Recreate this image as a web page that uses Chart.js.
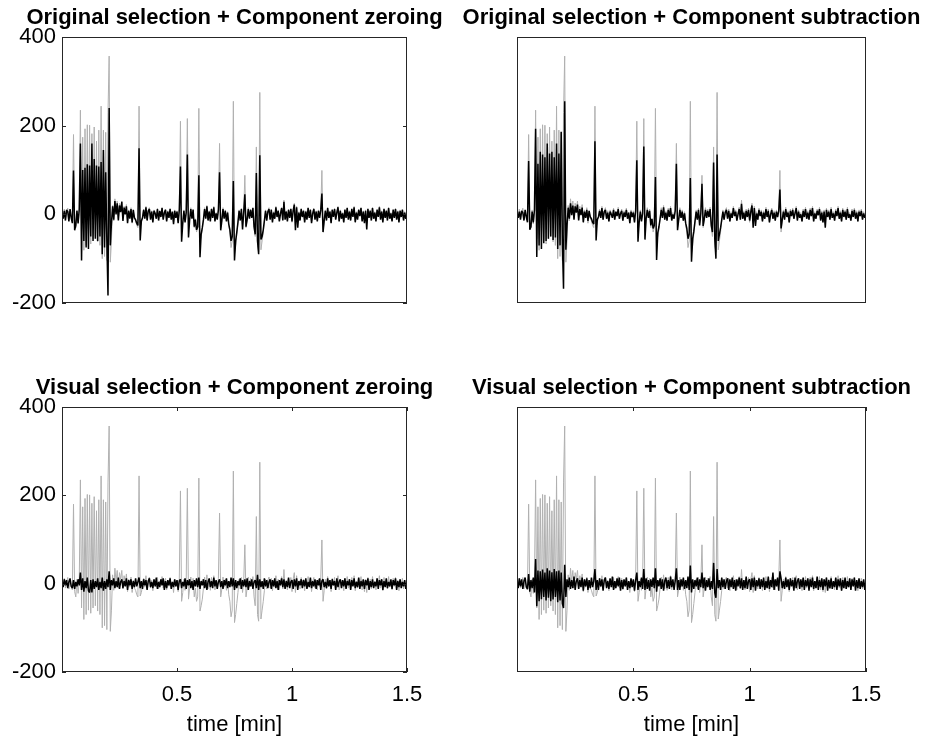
<!DOCTYPE html>
<html>
<head>
<meta charset="utf-8">
<script src="https://cdn.jsdelivr.net/npm/chart.js@4.4.1/dist/chart.umd.min.js"></script>
<style>
  body { margin: 0; background: #fff; }
  #wrap { position: relative; width: 925px; height: 740px; overflow: hidden; }
  #wrap canvas { position: absolute; left: 0; top: 0; }
</style>
</head>
<body>
<div id="wrap">
  <canvas id="c1" width="925" height="760"></canvas>
  <canvas id="c2" width="925" height="760"></canvas>
  <canvas id="c3" width="925" height="760"></canvas>
  <canvas id="c4" width="925" height="760"></canvas>
</div>
<script>
// sample times in minutes, one every 0.005 min
const time = Array.from({length: 301}, (_, i) => +(i * 0.005).toFixed(3));

// original signal (grey trace, same in every panel)
const original = [
  8, -6, 12, -10, 4, 14, -12, 6, -4, -14,
  180, -18, -30, 10, -22, 5, 235, -55, 174, -81,
  193, -70, 202, -60, 201, -67, 182, -55, 197, -50,
  165, -62, 190, -70, 244, -100, 190, -95, 185, -104,
  230, 357, -108, -60, 20, -15, 35, 5, 30, -10,
  25, 10, 30, -12, 18, 2, 22, -18, 10, -8,
  15, -20, 8, -10, -15, -25, -30, 244, -28, -20,
  -5, 12, -8, 18, -12, 6, 15, -10, 8, -16,
  10, 4, -8, 14, -12, 6, -4, 16, -10, 2,
  12, -14, 8, -6, 14, -10, 4, -20, 10, -6,
  8, -18, 12, 210, -40, -20, 10, -15, 5, 216,
  -35, -10, 15, -8, 12, -30, -10, -40, -30, 239,
  -62, -50, -35, -10, 15, -8, 20, -12, 8, -15,
  14, -6, 18, -14, 4, -10, 12, 160, -30, -12,
  15, -8, 10, -15, 6, -25, -40, -75, -60, 255,
  -88, -70, -45, -20, 10, -12, 14, -20, 5, 88,
  -30, -10, 15, -8, 12, -6, 16, -30, -50, 152,
  -70, -85, 275, -80, -60, -40, -15, 10, -12, 8,
  15, -10, 12, -16, 6, -8, 18, -4, 10, -14,
  4, 16, -12, 32, -10, 8, -14, 12, -6, 14,
  -18, 10, 25, -20, 18, -8, 6, -12, 14, -4,
  10, -16, 8, -10, 16, -6, 12, -18, 4, 14,
  -10, 8, -14, 10, -6, 12, 99, -40, -15, 10,
  -12, 16, -6, 8, -18, 12, -4, 14, -10, 6,
  18, -14, 10, -8, 4, -16, 12, -6, 16, -10,
  8, -12, 14, -4, 18, -16, 6, -10, 12, -2,
  16, -14, 8, -18, 10, -20, 14, -6, 10, -12,
  16, -8, 6, -14, 12, -4, 18, -10, 8, -16,
  14, -6, 10, -12, 16, -8, 4, -14, 12, -6,
  14, -10, 8, -16, 10, -4, 12, -12, 6, -8,
  4
];

// cleaned signal: original selection + component zeroing
const origZeroing = [
  5, -10, 8, -14, 10, 6, -16, 12, -8, -20,
  99, -36, -25, 8, -20, 12, 160, -104, 100, -60,
  105, -75, 113, -78, 110, -50, 160, -60, 125, -55,
  110, -60, 108, -50, 118, -90, 145, -75, 95, -60,
  -183, 240, -70, -20, 18, -12, 30, 0, 25, -14,
  20, 5, 28, -15, 15, 0, 18, -20, 8, -10,
  12, -18, 10, -8, -12, -20, -25, 149, -59, -15,
  -8, 10, -10, 16, -14, 8, 12, -12, 6, -18,
  8, 2, -10, 12, -14, 8, -6, 14, -12, 4,
  10, -16, 6, -8, 12, -12, 6, -22, 8, -8,
  6, -20, 10, 108, -62, -20, 8, -18, 4, 135,
  -52, -12, 12, -10, 10, -28, -12, -35, -28, 88,
  -97, -45, -30, -12, 12, -10, 18, -14, 6, -16,
  12, -8, 16, -16, 2, -12, 10, 95, -36, -14,
  12, -10, 8, -16, 4, -22, -35, -60, -50, 75,
  -104, -60, -40, -18, 8, -14, 12, -34, 4, 45,
  -28, -12, 12, -10, 10, -8, 14, -28, -45, 93,
  -60, -90, 133, -57, -50, -35, -14, 8, -14, 6,
  12, -12, 10, -18, 4, -10, 16, -6, 8, -16,
  2, 14, -14, 28, -12, 6, -16, 10, -8, 12,
  -16, 8, 22, -36, 16, -30, 4, -14, 12, -6,
  8, -18, 6, -12, 14, -8, 10, -20, 2, 12,
  -12, 6, -16, 8, -8, 10, 47, -40, -14, 8,
  -14, 14, -8, 6, -20, 10, -6, 12, -12, 4,
  16, -16, 8, -10, 2, -18, 10, -8, 14, -12,
  6, -14, 12, -6, 16, -18, 4, -12, 10, -4,
  14, -16, 6, -20, 8, -34, 12, -8, 8, -14,
  14, -10, 4, -16, 10, -6, 16, -12, 6, -18,
  12, -8, 8, -14, 14, -10, 2, -16, 10, -8,
  12, -12, 6, -18, 8, -6, 10, -14, 4, -10,
  2
];

// cleaned signal: original selection + component subtraction
const origSubtraction = [
  4, -8, 6, -12, 8, 4, -14, 10, -6, -18,
  120, -35, -28, 6, -18, 10, 193, -96, 114, -70,
  141, -78, 135, -65, 129, -60, 160, -55, 137, -50,
  141, -58, 129, -52, 160, -78, 137, -70, 186, -65,
  -168, 255, -80, -25, 15, -10, 25, -2, 20, -12,
  18, 4, 22, -14, 12, -2, 15, -18, 6, -8,
  10, -15, 8, -6, -10, -18, -22, 165, -59, -12,
  -6, 8, -8, 14, -12, 6, 10, -10, 4, -16,
  6, 0, -8, 10, -12, 6, -4, 12, -10, 2,
  8, -14, 4, -6, 10, -10, 4, -20, 6, -6,
  4, -18, 8, 122, -62, -18, 6, -16, 2, 153,
  -57, -10, 10, -8, 8, -25, -10, -32, -25, 84,
  -103, -42, -28, -10, 10, -8, 16, -12, 4, -14,
  10, -6, 14, -14, 0, -10, 8, 114, -36, -12,
  10, -8, 6, -14, 2, -20, -32, -55, -45, 82,
  -107, -55, -38, -16, 6, -12, 10, -25, 2, 69,
  -26, -10, 10, -8, 8, -6, 12, -25, -40, 117,
  -55, -100, 135, -60, -45, -30, -12, 6, -12, 4,
  10, -10, 8, -16, 2, -8, 14, -4, 6, -14,
  0, 12, -12, 24, -10, 4, -14, 8, -6, 10,
  -14, 6, 20, -30, 14, -26, 2, -12, 10, -4,
  6, -16, 4, -10, 12, -6, 8, -18, 0, 10,
  -10, 4, -14, 6, -6, 8, 56, -32, -12, 6,
  -12, 12, -6, 4, -18, 8, -4, 10, -10, 2,
  14, -14, 6, -8, 0, -16, 8, -6, 12, -10,
  4, -12, 10, -4, 14, -16, 2, -10, 8, -2,
  12, -14, 4, -18, 6, -30, 10, -6, 6, -12,
  12, -8, 2, -14, 8, -4, 14, -10, 4, -16,
  10, -6, 6, -12, 12, -8, 0, -14, 8, -6,
  10, -10, 4, -16, 6, -4, 8, -12, 2, -8,
  0
];

// cleaned signal: visual selection + component zeroing
const visZeroing = [
  6, -8, 10, -4, 8, -10, 4, 12, -6, -10,
  8, -12, 4, -6, 10, -4, 25, -14, 12, -18,
  6, -10, 14, -16, -20, 8, -20, 10, -12, 6,
  -8, 12, -14, 4, -10, 14, -16, 6, -12, 10,
  -8, 28, -14, 8, -4, 12, -10, 6, -8, 14,
  -12, 4, 10, -10, 6, -6, 12, -14, 8, -4,
  10, -12, 6, -8, 12, -6, 4, 14, -10, 6,
  -12, 10, -4, 8, -14, 6, 12, -8, 4, -10,
  10, -6, 14, -12, 4, -8, 10, -4, 12, -14,
  6, -10, 8, -4, 12, -12, 4, -8, 10, -6,
  8, -14, 6, 10, -10, 4, -6, 12, -12, 8,
  -4, 10, -10, 6, -14, 8, -6, 12, -8, 14,
  -12, 6, -4, 10, -10, 8, -14, 4, 12, -8,
  6, -10, 14, -6, 8, -12, 4, 10, -8, 6,
  -12, 8, -4, 12, -10, 6, -8, 14, -6, 12,
  -14, 8, -10, 6, -4, 12, -12, 8, -6, 10,
  -8, 12, -14, 6, -6, 10, -12, 4, 8, -10,
  20, -14, 10, -8, 6, -12, 12, -6, 8, -10,
  4, 10, -12, 8, -6, 12, -10, 6, -14, 8,
  -4, 12, -8, 10, -12, 6, -8, 14, -10, 4,
  8, -12, 10, -6, 12, -14, 6, -4, 10, -10,
  8, -6, 12, -12, 4, -8, 14, -10, 6, -6,
  10, -12, 8, -4, 12, -14, 6, 10, -8, 4,
  -10, 12, -6, 8, -12, 10, -4, 6, -14, 12,
  -8, 4, 10, -10, 8, -6, 12, -12, 6, -4,
  10, -14, 8, -6, 12, -10, 4, -8, 14, -12,
  6, -6, 10, -12, 8, -4, 12, -14, 6, -8,
  10, -10, 4, -6, 12, -12, 8, -4, 10, -14,
  6, -8, 12, -10, 4, -6, 10, -12, 8, -4,
  12, -14, 6, -8, 10, -10, 4, -6, 8, -12,
  6
];

// cleaned signal: visual selection + component subtraction
const visSubtraction = [
  6, -10, 12, -6, 10, -12, 6, 14, -8, -12,
  22, -18, 8, -10, 14, -20, 56, -51, 30, -40,
  28, -35, 32, -30, 25, -38, 35, -32, 30, -40,
  26, -36, 33, -30, 28, -42, 30, -38, 25, -45,
  -55, 43, -30, 10, -8, 14, -12, 8, -10, 16,
  -14, 6, 12, -12, 8, -8, 14, -16, 10, -6,
  12, -14, 8, -10, 14, -8, 6, 33, -14, 8,
  -14, 12, -6, 10, -16, 8, 14, -10, 6, -12,
  12, -8, 16, -14, 6, -10, 12, -6, 14, -16,
  8, -12, 10, -6, 14, -14, 6, -10, 12, -8,
  10, -16, 8, 25, -14, 6, -8, 14, -12, 33,
  -14, 12, -12, 8, -16, 10, -8, 14, -10, 35,
  -18, 8, -6, 12, -12, 10, -16, 6, 14, -10,
  8, -12, 16, -8, 10, -14, 6, 35, -14, 8,
  -14, 10, -6, 14, -12, 8, -10, 16, -14, 41,
  -20, 10, -12, 8, -6, 14, -14, 10, -8, 25,
  -10, 14, -16, 8, -8, 12, -14, 6, -12, 47,
  -20, -32, 33, -10, 8, -14, 14, -8, 10, -12,
  6, 12, -14, 10, -8, 14, -12, 8, -16, 10,
  -6, 14, -10, 12, -14, 8, -10, 16, -12, 6,
  10, -14, 12, -8, 14, -16, 8, -6, 12, -12,
  10, -8, 14, -14, 6, -10, 16, -12, 8, -8,
  25, -14, 10, -6, 14, -16, 28, 12, -10, 6,
  -12, 14, -8, 10, -14, 12, -6, 8, -16, 14,
  -10, 6, 12, -12, 10, -8, 14, -14, 8, -6,
  12, -16, 10, -8, 14, -12, 6, -10, 16, -14,
  8, -8, 12, -14, 10, -6, 14, -16, 8, -10,
  12, -12, 6, -8, 14, -14, 10, -6, 12, -16,
  8, -10, 14, -12, 6, -8, 12, -14, 10, -6,
  14, -16, 8, -10, 12, -12, 6, -8, 10, -14,
  8
];

const xTickValues = [0.5, 1, 1.5];
const yTickValues = [-200, 0, 200, 400];

const FONT = '"Liberation Sans", Arial, Helvetica, sans-serif';
const GREY = '#b0b0b0';
const AXIS = '#262626';

// box, inward tick marks and panel title (MATLAB look)
const framePlugin = {
    id: 'frame',
    afterDatasetsDraw(chart, args, opts) {
        const ctx = chart.ctx;
        const a = chart.chartArea;
        const xs = chart.scales.x, ys = chart.scales.y;
        ctx.save();
        ctx.strokeStyle = AXIS;
        ctx.lineWidth = 1;
        ctx.strokeRect(a.left + 0.5, a.top + 0.5, a.right - a.left - 1, a.bottom - a.top - 1);
        ctx.beginPath();
        if (opts.xTicks) {
            xTickValues.forEach(v => {
                const p = Math.round(xs.getPixelForValue(v)) + 0.5;
                ctx.moveTo(p, a.bottom); ctx.lineTo(p, a.bottom - 4);
                ctx.moveTo(p, a.top); ctx.lineTo(p, a.top + 4);
            });
        }
        if (opts.yTicks) {
            yTickValues.forEach(v => {
                const p = Math.round(ys.getPixelForValue(v)) + 0.5;
                ctx.moveTo(a.left, p); ctx.lineTo(a.left + 4, p);
                ctx.moveTo(a.right, p); ctx.lineTo(a.right - 4, p);
            });
        }
        ctx.stroke();
        ctx.fillStyle = '#000';
        ctx.font = 'bold 22px ' + FONT;
        ctx.textAlign = 'center';
        ctx.textBaseline = 'alphabetic';
        ctx.fillText(opts.title, (a.left + a.right) / 2, a.top - 13);
        ctx.restore();
    }
};

const CANVAS_H = 760;
const Y_AXIS_W = 60;
const X_AXIS_H = 66;

const panels = [
    { id: 'c1', title: 'Original selection + Component zeroing', clean: origZeroing,
      box: { left: 62, top: 37, right: 407, bottom: 303 }, yLabels: true, xLabels: false },
    { id: 'c2', title: 'Original selection + Component subtraction', clean: origSubtraction,
      box: { left: 517, top: 37, right: 866, bottom: 303 }, yLabels: false, xLabels: false },
    { id: 'c3', title: 'Visual selection + Component zeroing', clean: visZeroing,
      box: { left: 62, top: 407, right: 407, bottom: 672 }, yLabels: true, xLabels: true },
    { id: 'c4', title: 'Visual selection + Component subtraction', clean: visSubtraction,
      box: { left: 517, top: 407, right: 866, bottom: 672 }, yLabels: false, xLabels: true }
];

function points(values) {
    return time.map((t, i) => ({ x: t, y: values[i] }));
}

panels.forEach(p => {
    const ctx = document.getElementById(p.id).getContext('2d');
    new Chart(ctx, {
        type: 'line',
        data: {
            datasets: [
                {
                    label: 'cleaned',
                    data: points(p.clean),
                    borderColor: '#000',
                    borderWidth: 1.5,
                    pointRadius: 0,
                    tension: 0,
                    borderJoinStyle: 'bevel'
                },
                {
                    label: 'original',
                    data: points(original),
                    borderColor: GREY,
                    borderWidth: 1,
                    pointRadius: 0,
                    tension: 0,
                    borderJoinStyle: 'bevel'
                }
            ]
        },
        options: {
            responsive: false,
            animation: false,
            events: [],
            layout: {
                autoPadding: false,
                padding: {
                    left: p.box.left - Y_AXIS_W,
                    right: 925 - p.box.right,
                    top: p.box.top,
                    bottom: CANVAS_H - p.box.bottom - X_AXIS_H
                }
            },
            scales: {
                x: {
                    type: 'linear',
                    min: 0,
                    max: 1.5,
                    grid: { display: false, drawTicks: false },
                    border: { display: false },
                    afterBuildTicks: s => { s.ticks = xTickValues.map(v => ({ value: v })); },
                    afterFit: s => { s.height = X_AXIS_H; },
                    ticks: {
                        display: p.xLabels,
                        padding: 10,
                        maxRotation: 0,
                        color: '#000',
                        font: { family: FONT, size: 22 },
                        callback: v => String(v)
                    },
                    title: {
                        display: p.xLabels,
                        text: 'time [min]',
                        color: '#000',
                        padding: 0,
                        font: { family: FONT, size: 22 }
                    }
                },
                y: {
                    type: 'linear',
                    min: -200,
                    max: 400,
                    grid: { display: false, drawTicks: false },
                    border: { display: false },
                    afterBuildTicks: s => { s.ticks = yTickValues.map(v => ({ value: v })); },
                    afterFit: s => { s.width = Y_AXIS_W; },
                    ticks: {
                        display: p.yLabels,
                        padding: 6,
                        color: '#000',
                        font: { family: FONT, size: 22 }
                    }
                }
            },
            plugins: {
                legend: { display: false },
                tooltip: { enabled: false },
                frame: { title: p.title, xTicks: p.xLabels, yTicks: p.yLabels }
            }
        },
        plugins: [framePlugin]
    });
});
</script>
</body>
</html>
